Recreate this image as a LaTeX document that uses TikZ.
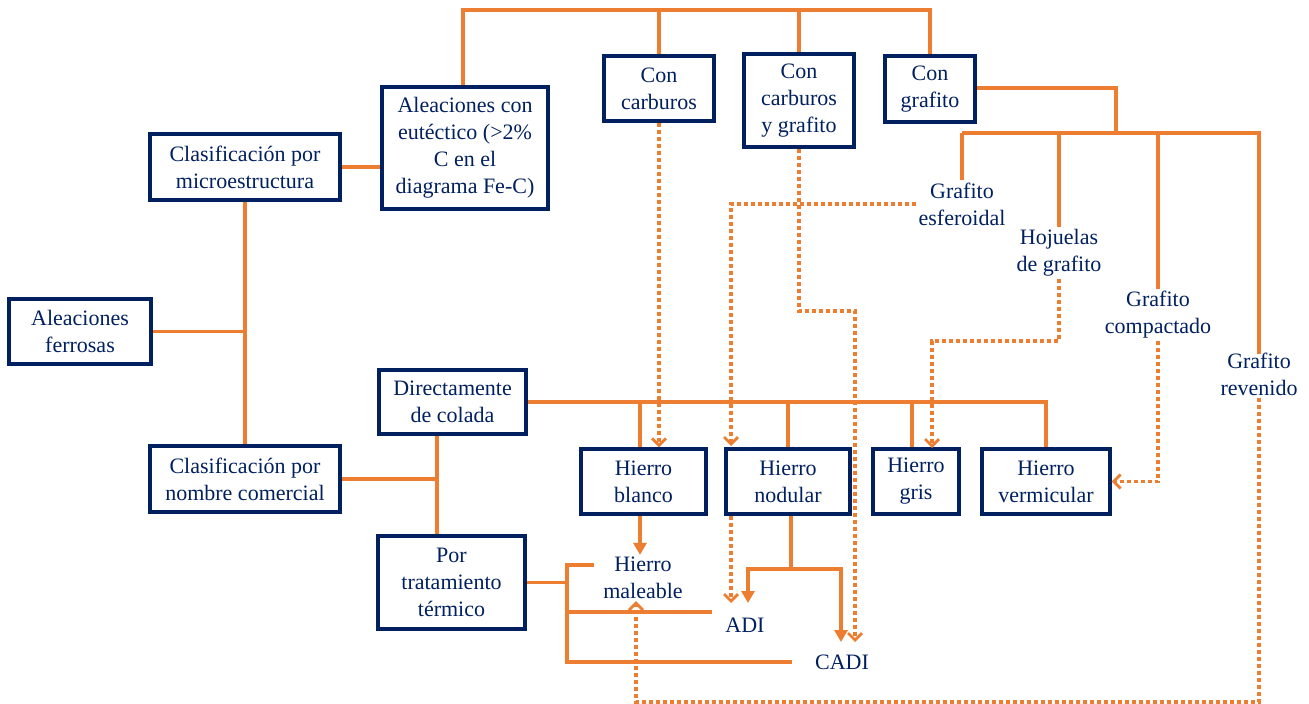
\documentclass[tikz,border=0pt]{standalone}
\usepackage{fontspec}
\setmainfont{Liberation Serif}
\usetikzlibrary{arrows.meta}
\definecolor{navy}{HTML}{002060}
\definecolor{org}{HTML}{ED7D31}
\begin{document}
\begin{tikzpicture}[x=1pt,y=-1pt,
  every node/.style={font=\fontsize{22}{27}\selectfont, text=navy, align=center},
  box/.style={draw=navy, line width=3.2pt, fill=white, inner sep=0pt},
  lbl/.style={inner sep=2pt},
  conn/.style={draw=org, line width=3.4pt},
  dot/.style={draw=org, line width=3.4pt, dash pattern=on 4pt off 3pt},
  sarr/.style={-{Triangle[length=12pt,width=13pt]}},
  darr/.style={-{Straight Barb[length=7pt,width=14pt,line width=2.8pt]}}]
\useasboundingbox (0,0) rectangle (1309,704);
% boxes
\node[box, minimum width=142pt, minimum height=65pt] (af) at (80,331.5) {Aleaciones\\ferrosas};
\node[box, minimum width=190pt, minimum height=66pt] (cm) at (245,167) {Clasificación por\\microestructura};
\node[box, minimum width=190pt, minimum height=66pt] (cn) at (245,479) {Clasificación por\\nombre comercial};
\node[box, minimum width=166pt, minimum height=122pt] (eu) at (465,148) {Aleaciones con\\eutéctico (>2\%\\C en el\\diagrama Fe-C)};
\node[box, minimum width=110pt, minimum height=65pt] (cc) at (659,88.5) {Con\\carburos};
\node[box, minimum width=110pt, minimum height=93pt] (ccg) at (799,100.5) {Con\\carburos\\y grafito};
\node[box, minimum width=90pt, minimum height=66pt] (cg) at (930,89) {Con\\grafito};
\node[box, minimum width=147pt, minimum height=64pt] (dc) at (452.5,402) {Directamente\\de colada};
\node[box, minimum width=147pt, minimum height=93pt] (pt) at (451.5,582.5) {Por\\tratamiento\\térmico};
\node[box, minimum width=125pt, minimum height=65pt] (hb) at (643.5,481.5) {Hierro\\blanco};
\node[box, minimum width=124pt, minimum height=65pt] (hn) at (788,481.5) {Hierro\\nodular};
\node[box, minimum width=86pt, minimum height=65pt] (hg) at (916,481.5) {Hierro\\gris};
\node[box, minimum width=128pt, minimum height=65pt] (hv) at (1046,481.5) {Hierro\\vermicular};
% plain labels
\node[lbl] (ge) at (962,204) {Grafito\\esferoidal};
\node[lbl] (hj) at (1059,253) {Hojuelas\\de grafito};
\node[lbl] (gc) at (1158,315) {Grafito\\compactado};
\node[lbl] (gr) at (1259,374) {Grafito\\revenido};
\node[lbl] (hm) at (643,578) {Hierro\\maleable};
\node[lbl] (adi) at (745,625) {ADI};
\node[lbl] (cadi) at (842,662) {CADI};
% coordinates
\coordinate (bus) at (0,10);
\coordinate (gbus) at (1116,133);
\coordinate (tj) at (567,0);
\coordinate (s1) at (594,565);
\coordinate (s2) at (712,612);
\coordinate (s3) at (792,662);
\coordinate (nj) at (791,569);
% solid connectors
\draw[conn] (cm.south) -- (cn.north);
\draw[conn] (af.east) -- (af.east -| cm.south);
\draw[conn] (cm.east) -- (cm.east -| eu.west);
\draw[conn] ([xshift=-2pt]eu.north) |- (bus -| cg.north) -- (cg.north);
\draw[conn] (cc.north) -- (cc.north |- bus);
\draw[conn] (ccg.north) -- (ccg.north |- bus);
\draw[conn] (cg.east |- 0,88) -| (gbus);
\draw[conn] (ge.north |- gbus) -| ([yshift=-4pt]gr.north);
\draw[conn] (ge.north |- gbus) -- (ge.north);
\draw[conn] (hj.north |- gbus) -- (hj.north);
\draw[conn] (gc.north |- gbus) -- (gc.north);
\draw[conn] (cn.east) -- (cn.east -| 437,0);
\draw[conn] (dc.south -| 437,0) -- (pt.north -| 437,0);
\draw[conn] (dc.east) -- (hv.north |- dc.east) -- (hv.north);
\draw[conn] (hb.north -| 640,0) -- (dc.east -| 640,0);
\draw[conn] (hn.north) -- (hn.north |- dc.east);
\draw[conn] (hg.north -| 912,0) -- (dc.east -| 912,0);
\draw[conn] (pt.east) -- (pt.east -| tj);
\draw[conn] (s1) -| (tj |- s3) -- (s3);
\draw[conn] (tj |- s2) -- (s2);
\draw[conn, sarr] (hb.south -| 640,0) -- (hm.north -| 640,0);
\draw[conn] (hn.south -| nj) -- (nj);
\draw[conn, sarr] (nj) -| (748,603);
\draw[conn, sarr] (nj) -| (841,642);
% dotted connectors
\draw[dot, darr] (cc.south) -- (cc.south |- hb.north);
\draw[dot, darr] (ccg.south) |- (855,311) -- (855,642);
\draw[dot, darr] (ge.west) -| (731,446);
\draw[dot, darr] (hj.south) |- (932,341) -- (932,448);
\draw[dot, darr] (gc.south) |- (hv.east);
\draw[dot, darr] (gr.south) |- (636,702) -- (hm.south -| 636,0);
\draw[dot, darr] (hn.south -| 731,0) -- (731,603);
\end{tikzpicture}
\end{document}
